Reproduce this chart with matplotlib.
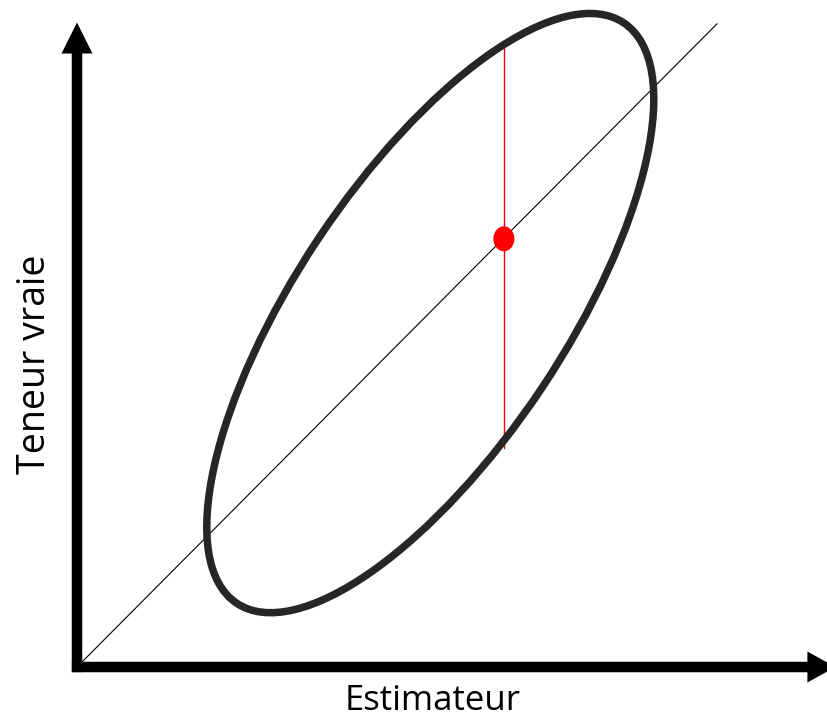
import numpy as np
import matplotlib
matplotlib.use('Agg')
from matplotlib import pyplot as plt
from matplotlib.patches import Ellipse, FancyArrow

# schematic in arbitrary units, origin at the axes corner
ellipse_center = (5.52, 5.53)
ellipse_width = 10.9      # major axis
ellipse_height = 4.2      # minor axis
ellipse_angle = 56.3      # degrees

diag_x = [0.05, 10.0]
diag_y = [0.05, 10.05]

point_x = 6.67
point_y = 6.69
red_line_y = [3.42, 9.67]

x_label = 'Estimateur'
y_label = 'Teneur vraie'

plt.rcParams['font.family'] = ['Open Sans', 'DejaVu Sans']

fig = plt.figure(figsize=(8.28, 7.19), dpi=100)
ax = fig.add_axes([0, 0, 1, 1])
ax.set_xlim(-77 / 64, (828 - 77) / 64)
ax.set_ylim((667 - 719) / 64, 667 / 64)
ax.axis('off')

# axes arrows
ax.add_patch(FancyArrow(-0.08, 0, 11.93, 0, width=10.5 / 64, head_width=31 / 64,
                        head_length=28 / 64, length_includes_head=True,
                        color='black', lw=0))
ax.add_patch(FancyArrow(0, -0.08, 0, 10.15, width=10.5 / 64, head_width=31 / 64,
                        head_length=31 / 64, length_includes_head=True,
                        color='black', lw=0))

ax.plot(diag_x, diag_y, color='black', lw=0.8, zorder=2)

ax.add_patch(Ellipse(ellipse_center, ellipse_width, ellipse_height, angle=ellipse_angle,
                     fill=False, edgecolor='#262626', lw=5.4, zorder=3))

ax.plot([point_x, point_x], red_line_y, color='red', lw=1.0, zorder=2)
ax.add_patch(Ellipse((point_x, point_y), 21 / 64, 25 / 64, color='red', lw=0, zorder=4))

ax.text(5.55, -0.67, x_label, ha='center', va='baseline', fontsize=25)
ax.text(-0.66, 4.73, y_label, ha='center', va='center', rotation=90, fontsize=27)

fig.savefig('out.png', dpi=100)
